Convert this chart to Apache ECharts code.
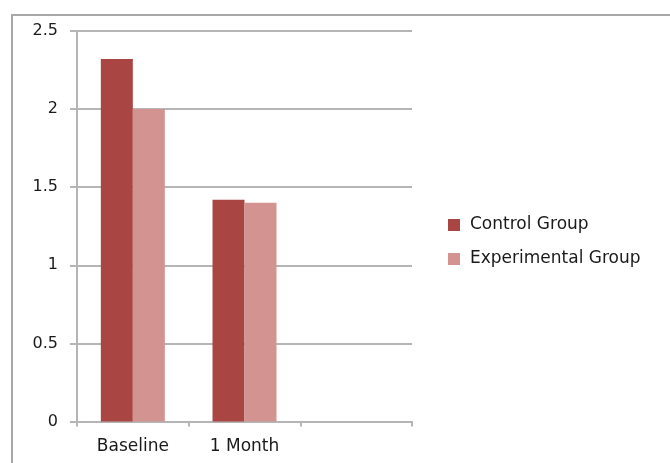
<!DOCTYPE html>
<html><head><meta charset="utf-8">
<script src="https://cdn.jsdelivr.net/npm/echarts@6/dist/echarts.min.js"></script>
<style>html,body{margin:0;padding:0;background:#fff}#c{width:670px;height:463px}</style>
</head><body><div id="c"></div>
<script>
const categories = ['Baseline', '1 Month', ''];
const controlGroup = [2.32, 1.42, null];
const experimentalGroup = [2.00, 1.40, null];
const seriesNames = ['Control Group', 'Experimental Group'];
const yTicks = [0, 0.5, 1, 1.5, 2, 2.5];

const font = 'DejaVu Sans';
const gray = '#b5b5b5';
const chart = echarts.init(document.getElementById('c'));
chart.setOption({
  animation: false,
  graphic: [{ type: 'rect', shape: { x: 12, y: 15, width: 700, height: 500 },
    style: { fill: 'none', stroke: '#a8a8a8', lineWidth: 2 } }],
  grid: { left: 77, right: 258, top: 31, bottom: 41.5, containLabel: false },
  legend: {
    left: 443, top: 211, orient: 'vertical', itemWidth: 12, itemHeight: 12, itemGap: 16,
    icon: 'rect',
    textStyle: { fontFamily: font, fontSize: 17, color: '#1a1a1a', lineHeight: 18, padding: [0, 0, 0, 5] },
    data: seriesNames
  },
  xAxis: {
    type: 'category', data: categories,
    axisLine: { lineStyle: { color: gray, width: 2 } },
    axisTick: { show: true, length: 5, alignWithLabel: false, lineStyle: { color: gray, width: 2 } },
    axisLabel: { fontFamily: font, fontSize: 17, color: '#1a1a1a', margin: 17, interval: 0 }
  },
  yAxis: {
    type: 'value', min: yTicks[0], max: yTicks[yTicks.length - 1], interval: 0.5,
    axisLine: { show: true, lineStyle: { color: gray, width: 2 } },
    axisTick: { show: true, length: 7, lineStyle: { color: gray, width: 2 } },
    splitLine: { lineStyle: { color: gray, width: 2 } },
    axisLabel: { fontFamily: font, fontSize: 16, color: '#1a1a1a', margin: 19 }
  },
  series: [
    { name: seriesNames[0], type: 'bar', data: controlGroup, barWidth: 32, barGap: '0%',
      itemStyle: { color: '#a94644' } },
    { name: seriesNames[1], type: 'bar', data: experimentalGroup, barWidth: 32, barGap: '0%',
      itemStyle: { color: '#d39391' } }
  ]
});
</script></body></html>
